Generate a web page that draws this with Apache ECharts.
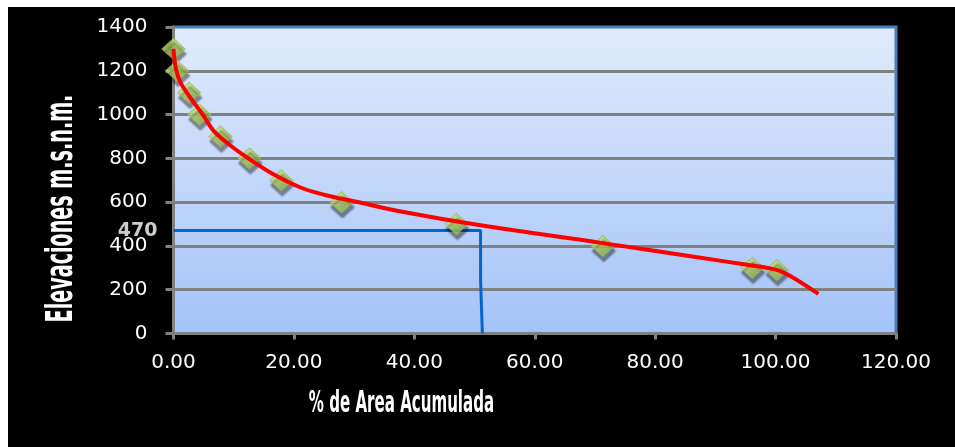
<!DOCTYPE html>
<html>
<head>
<meta charset="utf-8">
<title>Curva hipsométrica</title>
<script src="https://cdn.jsdelivr.net/npm/echarts@6/dist/echarts.min.js"></script>
<style>
  html, body { margin: 0; padding: 0; background: #ffffff; }
  #chart { position: absolute; left: 8px; top: 7px; width: 947px; height: 440px; }
</style>
</head>
<body>
<div id="chart"></div>
<script>
// Measured stations: accumulated area (%) vs elevation (m.s.n.m.)
const areaPct   = [0, 0.6, 2.6, 4.3, 7.8, 12.6, 17.9, 27.9, 47.0, 71.3, 96.1, 100.2];
const elevation = [1300, 1200, 1100, 1000, 900, 800, 700, 600, 500, 400, 300, 290];

// Fitted hypsometric curve
const curveX = [0, 0.4, 1.1, 2.2, 3.3, 5.0, 6.6, 9.4, 12.7, 16.6, 21.0, 25.0, 30.0, 38.0, 51.0, 71.0, 87.0, 95.0, 100.0, 102.5, 107.1];
const curveY = [1300, 1210, 1150, 1100, 1058, 994, 928, 860, 795, 727, 668, 634, 604, 556, 494, 414, 348, 315, 292, 262, 181];

// Median elevation read-off (horizontal to curve, then down to the x axis)
const medianElev = 470;
const guideX = [0, 51.0, 51.0, 51.3, 51.3];
const guideY = [medianElev, medianElev, 245, 245, 0];

// Axis tick values
const xTicks = [0, 20, 40, 60, 80, 100, 120];
const yTicks = [0, 200, 400, 600, 800, 1000, 1200, 1400];

const zip = (a, b) => a.map((v, i) => [v, b[i]]);

const chart = echarts.init(document.getElementById('chart'), null, { renderer: 'canvas' });

const axisGray = '#808080';
const tickFont = { color: '#ffffff', fontFamily: 'DejaVu Sans', fontSize: 20 };

chart.setOption({
  backgroundColor: '#000000',
  animation: false,
  grid: {
    left: 165.5, top: 20, right: 59, bottom: 113.5,
    show: true,
    borderColor: '#4a7ebb',
    borderWidth: 3,
    backgroundColor: new echarts.graphic.LinearGradient(0, 0, 0, 1, [
      { offset: 0, color: '#e1ebfc' },
      { offset: 1, color: '#a3c3f8' }
    ])
  },
  xAxis: {
    type: 'value',
    min: xTicks[0], max: xTicks[xTicks.length - 1], interval: xTicks[1] - xTicks[0],
    axisLine: { show: true, onZero: false, lineStyle: { color: axisGray, width: 3 } },
    axisTick: { show: true, length: 6, lineStyle: { color: axisGray, width: 3 } },
    splitLine: { show: false },
    axisLabel: Object.assign({ margin: 19, formatter: v => v.toFixed(2) }, tickFont)
  },
  yAxis: {
    type: 'value',
    min: yTicks[0], max: yTicks[yTicks.length - 1], interval: yTicks[1] - yTicks[0],
    axisLine: { show: true, onZero: false, lineStyle: { color: axisGray, width: 3 } },
    axisTick: { show: true, length: 8, lineStyle: { color: axisGray, width: 3 } },
    splitLine: { show: true, showMaxLine: false, lineStyle: { color: axisGray, width: 3 } },
    axisLabel: Object.assign({ margin: 26, formatter: v => String(v) }, tickFont)
  },
  series: [
    {
      name: 'guia',
      type: 'line',
      data: zip(guideX, guideY),
      symbol: 'none',
      smooth: false,
      lineStyle: { color: '#0066cc', width: 3 },
      z: 2
    },
    {
      name: 'mediana',
      type: 'scatter',
      data: [[0, medianElev]],
      symbolSize: 0,
      label: {
        show: true,
        position: 'left',
        distance: 16,
        formatter: p => String(p.value[1]),
        color: '#ffffff',
        fontFamily: 'DejaVu Sans',
        fontWeight: 'bold',
        fontSize: 19
      },
      z: 3
    },
    {
      name: 'estaciones',
      type: 'scatter',
      data: zip(areaPct, elevation),
      symbol: 'diamond',
      symbolSize: [23, 21],
      itemStyle: {
        color: new echarts.graphic.LinearGradient(0, 0, 1, 1, [
          { offset: 0, color: '#dcf09a' },
          { offset: 0.4, color: '#b3d26a' },
          { offset: 1, color: '#8aab46' }
        ]),
        borderColor: '#9aba55',
        borderWidth: 1,
        shadowColor: 'rgba(0,0,0,0.5)',
        shadowBlur: 2,
        shadowOffsetX: 1,
        shadowOffsetY: 5
      },
      z: 4
    },
    {
      name: 'curva',
      type: 'line',
      data: zip(curveX, curveY),
      symbol: 'none',
      smooth: 0.4,
      lineStyle: { color: '#ff0000', width: 4 },
      z: 5
    }
  ],
  graphic: [
    {
      type: 'text',
      x: 393.5, y: 397,
      scaleX: 0.54,
      style: {
        text: '% de Area Acumulada',
        x: 0, y: 0,
        align: 'center', verticalAlign: 'middle',
        fill: '#ffffff',
        font: 'bold 31px "Liberation Sans Narrow", "DejaVu Sans Condensed", sans-serif'
      }
    },
    {
      type: 'text',
      x: 54.5, y: 201.5,
      rotation: Math.PI / 2,
      scaleX: 0.56,
      style: {
        text: 'Elevaciones m.s.n.m.',
        x: 0, y: 0,
        align: 'center', verticalAlign: 'middle',
        fill: '#ffffff',
        font: 'bold 38px "Liberation Sans Narrow", "DejaVu Sans Condensed", sans-serif'
      }
    }
  ]
});
</script>
</body>
</html>
